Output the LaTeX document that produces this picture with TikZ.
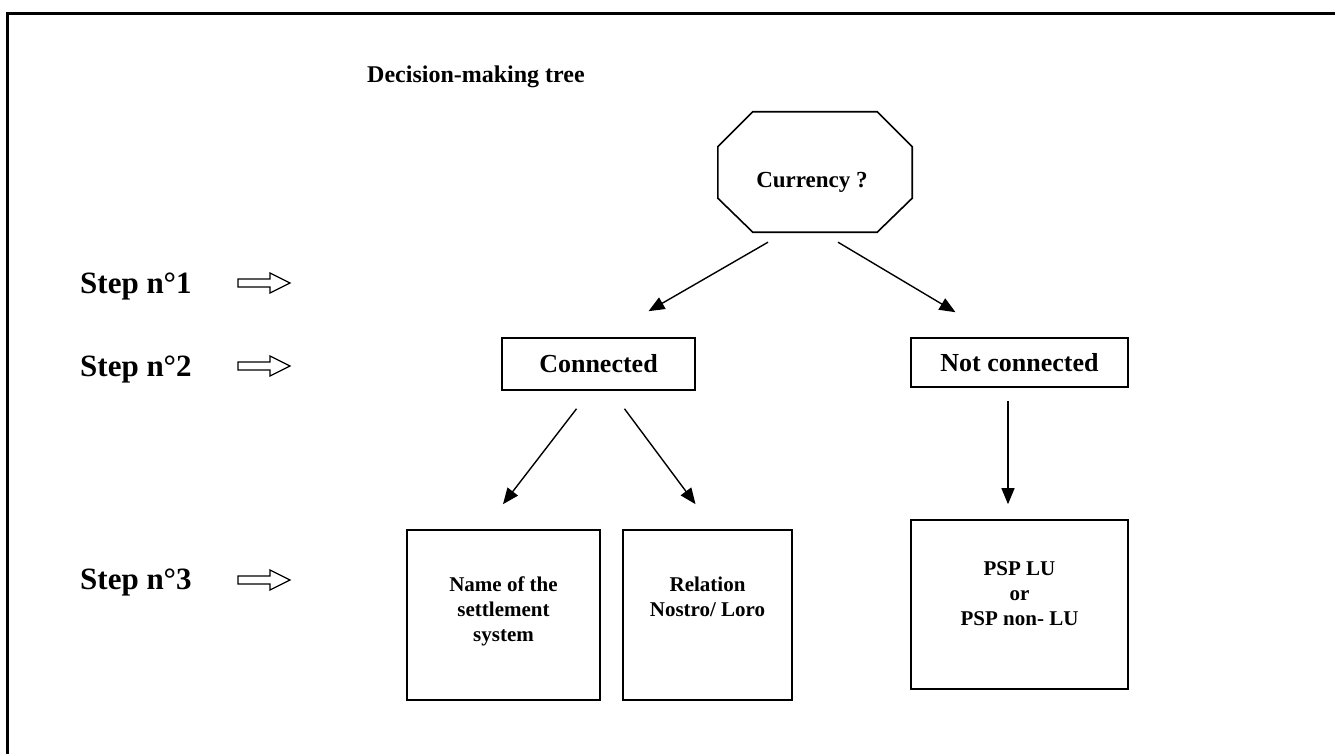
\documentclass[tikz,border=0pt]{standalone}
\usepackage{fontspec}
\setmainfont{Liberation Serif}
\usetikzlibrary{arrows.meta}
\tikzset{
  every node/.style={font=\bfseries},
  boxline/.style={draw, line width=1.6pt, inner sep=0pt},
  conn/.style={line width=1.4pt, -{Triangle[length=16pt,width=13pt]}},
  boxtext/.style={align=center, inner sep=0pt, anchor=north, font=\fontsize{21}{25}\selectfont\bfseries},
  steplabel/.style={anchor=west, inner sep=0pt, font=\fontsize{31}{34}\selectfont\bfseries},
  hollowarrow/.pic={\draw[line width=1.2pt, line join=miter] (-26,-4) -- (6,-4) -- (6,-10) -- (26,0) -- (6,10) -- (6,4) -- (-26,4) -- cycle;}
}
\begin{document}
\begin{tikzpicture}[x=1pt,y=-1pt]
\useasboundingbox (0,0) rectangle (1335,754);
% outer frame
\draw[line width=3pt] (1340,14) -- (7,14) -- (7,760);
% title
\node[anchor=west, inner sep=0pt, font=\fontsize{24}{28}\selectfont\bfseries] (title) at (367,77) {Decision-making tree};
% step labels
\node[steplabel] (s1) at (80,286) {Step n°1};
\node[steplabel] (s2) at (80,369) {Step n°2};
\node[steplabel] (s3) at (80,582) {Step n°3};
\pic at (264,283) {hollowarrow};
\pic at (264,366) {hollowarrow};
\pic at (264,580) {hollowarrow};
% octagon
\node[minimum width=194pt, minimum height=120pt, inner sep=0pt] (cur) at (815,172) {};
\draw[line width=1.6pt] ([xshift=35pt]cur.north west) -- ([xshift=-35pt]cur.north east)
  -- ([yshift=-35pt]cur.north east) -- ([yshift=34pt]cur.south east)
  -- ([xshift=-35pt]cur.south east) -- ([xshift=35pt]cur.south west)
  -- ([yshift=34pt]cur.south west) -- ([yshift=-35pt]cur.north west) -- cycle;
\node[font=\fontsize{23}{27}\selectfont\bfseries, inner sep=0pt] (curt) at (812,182) {Currency ?};
% step 2 boxes
\node[boxline, minimum width=193pt, minimum height=52pt, font=\fontsize{26}{30}\selectfont\bfseries] (con) at (598.5,364) {Connected};
\node[boxline, minimum width=217pt, minimum height=49pt, font=\fontsize{26}{30}\selectfont\bfseries] (nc) at (1019.5,362.5) {Not connected};
% step 3 boxes
\node[boxline, minimum width=193pt, minimum height=170pt] (b1) at (503.5,615) {};
\node[boxline, minimum width=169pt, minimum height=170pt] (b2) at (707.5,615) {};
\node[boxline, minimum width=217pt, minimum height=169pt] (b3) at (1019.5,604.5) {};
\node[boxtext] (t1) at (503.5,577) {Name of the\\settlement\\system};
\node[boxtext] (t2) at (707.5,577) {Relation\\Nostro/ Loro};
\node[boxtext] (t3) at (1019.5,561) {PSP LU\\or\\PSP non- LU};
% connectors
\draw[conn] ([xshift=-47pt,yshift=-10pt]cur.south) -- ([xshift=50pt,yshift=26pt]con.north);
\draw[conn] ([xshift=23pt,yshift=-10pt]cur.south) -- ([xshift=-64pt,yshift=25pt]nc.north);
\draw[conn] ([xshift=-22pt,yshift=-18pt]con.south) -- ([xshift=-0.5pt,yshift=25pt]b1.north);
\draw[conn] ([xshift=26pt,yshift=-18pt]con.south) -- ([xshift=-12pt,yshift=25pt]b2.north);
\draw[conn] ([xshift=-11.5pt,yshift=-13pt]nc.south) -- ([xshift=-11.5pt,yshift=15pt]b3.north);
\end{tikzpicture}
\end{document}
